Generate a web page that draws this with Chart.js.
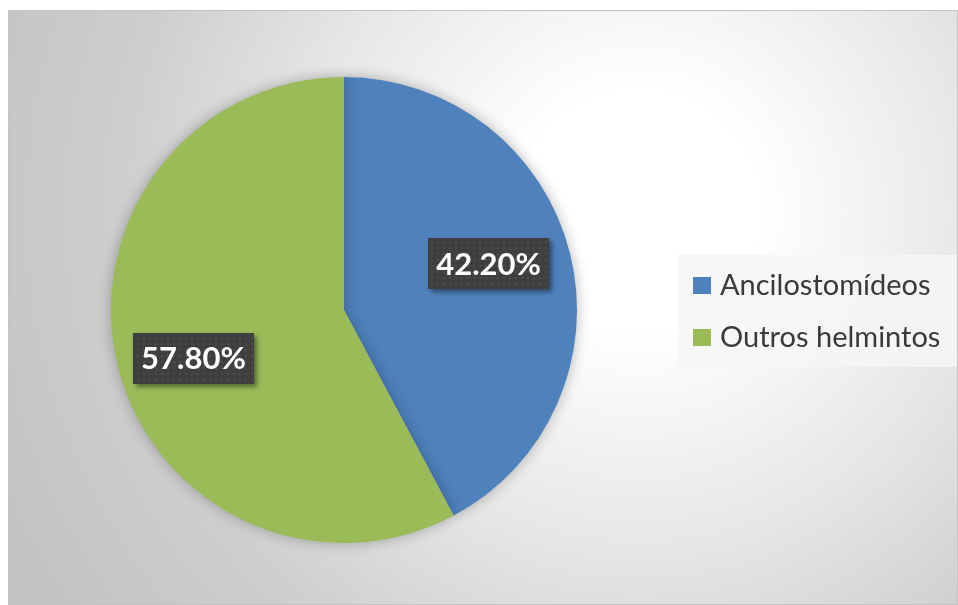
<!DOCTYPE html>
<html>
<head>
<meta charset="utf-8">
<script src="https://cdn.jsdelivr.net/npm/chart.js@4.4.1/dist/chart.umd.min.js"></script>
<style>
  html, body { margin: 0; padding: 0; background: #fff; }
  #wrap {
    position: absolute; left: 8px; top: 10px;
    width: 950px; height: 595px; box-sizing: border-box;
    border: 1px solid #c3c3c3;
    background: radial-gradient(circle at 630px 200px, #ffffff 0px, #ffffff 120px, #e6e6e6 340px, #cecece 520px, #c3c3c3 700px);
  }
  #chart { display: block; }
</style>
</head>
<body>
<div id="wrap"><canvas id="chart" width="948" height="593"></canvas></div>
<script>
// data
const labels = ['Ancilostomídeos', 'Outros helmintos'];
const values = [42.2, 57.8];
const colors = ['#4f81bd', '#9bbb59'];

const FONT = 'Lato, "Open Sans", sans-serif';

// dotted dark fill for the data label boxes
function makeDotPattern(ctx) {
    const c = document.createElement('canvas');
    c.width = 6; c.height = 6;
    const p = c.getContext('2d');
    p.fillStyle = '#3f3f3f';
    p.fillRect(0, 0, 6, 6);
    p.fillStyle = '#4d4d4d';
    p.fillRect(2, 2, 2, 2);
    return ctx.createPattern(c, 'repeat');
}

// soft shadow under the pie
const pieShadow = {
    id: 'pieShadow',
    beforeDatasetsDraw(chart) {
        const ctx = chart.ctx;
        ctx.save();
        ctx.shadowColor = 'rgba(0,0,0,0.28)';
        ctx.shadowBlur = 14;
    },
    afterDatasetsDraw(chart) {
        chart.ctx.restore();
    }
};

// percentage labels in dark boxes
const boxLabels = {
    id: 'boxLabels',
    afterDatasetsDraw(chart) {
        const ctx = chart.ctx;
        const meta = chart.getDatasetMeta(0);
        const pattern = makeDotPattern(ctx);
        meta.data.forEach((arc, i) => {
            const p = arc.getProps(['x', 'y', 'startAngle', 'endAngle', 'outerRadius'], true);
            const mid = (p.startAngle + p.endAngle) / 2 - 0.065;
            const r = p.outerRadius * 0.665;
            const cx = p.x + Math.cos(mid) * r - 3;
            const cy = p.y + Math.sin(mid) * r + 1;
            const text = values[i].toFixed(2) + '%';
            ctx.save();
            ctx.font = 'bold 31px ' + FONT;
            const w = ctx.measureText(text).width + 16;
            const h = 51;
            ctx.shadowColor = 'rgba(0,0,0,0.45)';
            ctx.shadowBlur = 5;
            ctx.shadowOffsetX = 3;
            ctx.shadowOffsetY = 3;
            ctx.fillStyle = pattern;
            ctx.fillRect(Math.round(cx - w / 2), Math.round(cy - h / 2), Math.round(w), h);
            ctx.restore();
            ctx.save();
            ctx.font = 'bold 31px ' + FONT;
            ctx.fillStyle = '#ffffff';
            ctx.textAlign = 'center';
            ctx.textBaseline = 'middle';
            ctx.fillText(text, cx, cy + 1);
            ctx.restore();
        });
    }
};

// legend with light panel on the right
const sideLegend = {
    id: 'sideLegend',
    afterDraw(chart) {
        const ctx = chart.ctx;
        ctx.save();
        ctx.fillStyle = 'rgba(246,246,246,0.85)';
        ctx.fillRect(669, 244, 279, 112);
        ctx.font = '29px ' + FONT;
        ctx.textBaseline = 'middle';
        labels.forEach((lab, i) => {
            const y = 274 + i * 52;
            ctx.fillStyle = colors[i];
            ctx.fillRect(684, y - 8, 18, 17);
            ctx.fillStyle = '#3a3a3a';
            ctx.fillText(lab, 711, y + 1);
        });
        ctx.restore();
    }
};

new Chart(document.getElementById('chart'), {
    type: 'pie',
    data: {
        labels: labels,
        datasets: [{
            data: values,
            backgroundColor: colors,
            borderWidth: 0
        }]
    },
    options: {
        responsive: false,
        animation: false,
        layout: { padding: { left: 0, top: 66, bottom: 61, right: 278 } },
        plugins: {
            legend: { display: false },
            tooltip: { enabled: false }
        }
    },
    plugins: [pieShadow, boxLabels, sideLegend]
});
</script>
</body>
</html>
